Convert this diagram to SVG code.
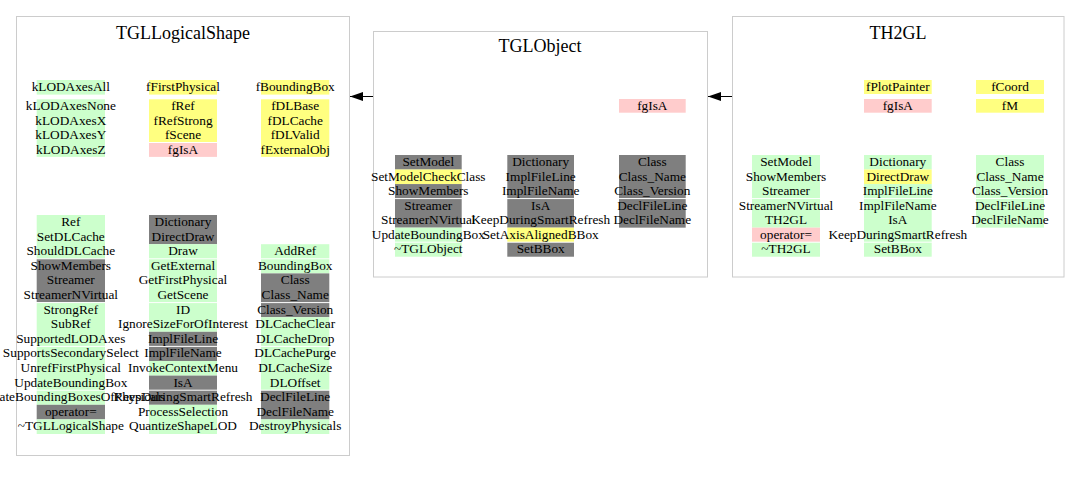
<svg xmlns="http://www.w3.org/2000/svg" width="1080" height="481" viewBox="0 0 1080 481">
<defs>
<style>
.box{fill:#ffffff;stroke:#cccccc;stroke-width:1}
.t{font-family:"Liberation Serif","DejaVu Serif",serif;font-size:13.3px;fill:#000;text-anchor:middle}
.title{font-family:"Liberation Serif","DejaVu Serif",serif;font-size:18px;fill:#000;text-anchor:middle}
.g{fill:#ccffcc}
.y{fill:#ffff80}
.p{fill:#ffcccc}
.d{fill:#7f7f7f}
.sep{stroke:#ffffff;stroke-width:1}
.conn{stroke:#000;stroke-width:1;fill:none}
</style>
<marker id="arr" markerUnits="userSpaceOnUse" markerWidth="14" markerHeight="10" refX="13" refY="4.5" orient="auto">
<path d="M0,0 L13,4.5 L0,9 z" fill="#000"/>
</marker>
</defs>
<rect x="0" y="0" width="1080" height="481" fill="#ffffff"/>

<g id="TGLLogicalShape">
<rect class="box" x="16.5" y="16.5" width="333" height="439"/>
<text class="title" x="183" y="39">TGLLogicalShape</text>
<!-- top attributes -->
<rect class="g" x="36.7" y="80" width="68.3" height="14.6"/>
<rect class="y" x="149" y="80" width="68" height="14.6"/>
<rect class="y" x="261" y="80" width="68.3" height="14.6"/>
<rect class="g" x="36.7" y="99.3" width="68.3" height="57.6"/>
<rect class="y" x="149" y="99.3" width="68" height="43.2"/>
<rect class="p" x="149" y="142.5" width="68" height="14.4"/>
<rect class="y" x="261" y="99.3" width="68.3" height="57.6"/>
<line class="sep" x1="149" y1="142.5" x2="217" y2="142.5"/>
<text class="t" x="70.8" y="91">kLODAxesAll</text>
<text class="t" x="183" y="91">fFirstPhysical</text>
<text class="t" x="295.2" y="91">fBoundingBox</text>
<text class="t" x="70.8" y="110.3">kLODAxesNone</text>
<text class="t" x="70.8" y="124.7">kLODAxesX</text>
<text class="t" x="70.8" y="139.1">kLODAxesY</text>
<text class="t" x="70.8" y="153.5">kLODAxesZ</text>
<text class="t" x="183" y="110.3">fRef</text>
<text class="t" x="183" y="124.7">fRefStrong</text>
<text class="t" x="183" y="139.1">fScene</text>
<text class="t" x="183" y="153.5">fgIsA</text>
<text class="t" x="295.2" y="110.3">fDLBase</text>
<text class="t" x="295.2" y="124.7">fDLCache</text>
<text class="t" x="295.2" y="139.1">fDLValid</text>
<text class="t" x="295.2" y="153.5">fExternalObj</text>
<!-- methods col1 -->
<rect class="g" x="36.7" y="215" width="68.3" height="43.8"/>
<rect class="d" x="36.7" y="258.8" width="68.3" height="43.8"/>
<rect class="g" x="36.7" y="302.6" width="68.3" height="102.2"/>
<rect class="d" x="36.7" y="404.8" width="68.3" height="14.6"/>
<rect class="g" x="36.7" y="419.4" width="68.3" height="14.6"/>
<!-- col2 -->
<rect class="d" x="149" y="215" width="68" height="29.2"/>
<rect class="g" x="149" y="244.2" width="68" height="87.6"/>
<rect class="d" x="149" y="331.8" width="68" height="29.2"/>
<rect class="g" x="149" y="361" width="68" height="14.6"/>
<rect class="d" x="149" y="375.6" width="68" height="29.2"/>
<rect class="g" x="149" y="404.8" width="68" height="29.2"/>
<!-- col3 -->
<rect class="g" x="261" y="244.2" width="68.3" height="29.2"/>
<rect class="d" x="261" y="273.4" width="68.3" height="43.8"/>
<rect class="g" x="261" y="317.2" width="68.3" height="73"/>
<rect class="d" x="261" y="390.2" width="68.3" height="29.2"/>
<rect class="g" x="261" y="419.4" width="68.3" height="14.6"/>
<line class="sep" x1="30" y1="258.8" x2="335" y2="258.8"/>
<line class="sep" x1="30" y1="302.6" x2="335" y2="302.6"/>
<line class="sep" x1="30" y1="346.4" x2="335" y2="346.4"/>
<line class="sep" x1="30" y1="390.2" x2="335" y2="390.2"/>
<text class="t" x="70.8" y="226">Ref</text>
<text class="t" x="70.8" y="240.6">SetDLCache</text>
<text class="t" x="70.8" y="255.2">ShouldDLCache</text>
<text class="t" x="70.8" y="269.8">ShowMembers</text>
<text class="t" x="70.8" y="284.4">Streamer</text>
<text class="t" x="70.8" y="299">StreamerNVirtual</text>
<text class="t" x="70.8" y="313.6">StrongRef</text>
<text class="t" x="70.8" y="328.2">SubRef</text>
<text class="t" x="70.8" y="342.8">SupportedLODAxes</text>
<text class="t" x="70.8" y="357.4">SupportsSecondarySelect</text>
<text class="t" x="70.8" y="372">UnrefFirstPhysical</text>
<text class="t" x="70.8" y="386.6">UpdateBoundingBox</text>
<text class="t" x="70.8" y="401.2">UpdateBoundingBoxesOfPhysicals</text>
<text class="t" x="70.8" y="415.8">operator=</text>
<text class="t" x="70.8" y="430.4">~TGLLogicalShape</text>
<text class="t" x="183" y="226">Dictionary</text>
<text class="t" x="183" y="240.6">DirectDraw</text>
<text class="t" x="183" y="255.2">Draw</text>
<text class="t" x="183" y="269.8">GetExternal</text>
<text class="t" x="183" y="284.4">GetFirstPhysical</text>
<text class="t" x="183" y="299">GetScene</text>
<text class="t" x="183" y="313.6">ID</text>
<text class="t" x="183" y="328.2">IgnoreSizeForOfInterest</text>
<text class="t" x="183" y="342.8">ImplFileLine</text>
<text class="t" x="183" y="357.4">ImplFileName</text>
<text class="t" x="183" y="372">InvokeContextMenu</text>
<text class="t" x="183" y="386.6">IsA</text>
<text class="t" x="183" y="401.2">KeepDuringSmartRefresh</text>
<text class="t" x="183" y="415.8">ProcessSelection</text>
<text class="t" x="183" y="430.4">QuantizeShapeLOD</text>
<text class="t" x="295.2" y="255.2">AddRef</text>
<text class="t" x="295.2" y="269.8">BoundingBox</text>
<text class="t" x="295.2" y="284.4">Class</text>
<text class="t" x="295.2" y="299">Class_Name</text>
<text class="t" x="295.2" y="313.6">Class_Version</text>
<text class="t" x="295.2" y="328.2">DLCacheClear</text>
<text class="t" x="295.2" y="342.8">DLCacheDrop</text>
<text class="t" x="295.2" y="357.4">DLCachePurge</text>
<text class="t" x="295.2" y="372">DLCacheSize</text>
<text class="t" x="295.2" y="386.6">DLOffset</text>
<text class="t" x="295.2" y="401.2">DeclFileLine</text>
<text class="t" x="295.2" y="415.8">DeclFileName</text>
<text class="t" x="295.2" y="430.4">DestroyPhysicals</text>
</g>

<g id="TGLObject">
<rect class="box" x="373.5" y="31.5" width="334" height="245.5"/>
<text class="title" x="540" y="52">TGLObject</text>
<rect class="p" x="619" y="99" width="66.7" height="13.7"/>
<text class="t" x="652.3" y="110">fgIsA</text>
<rect class="d" x="395" y="155" width="66.7" height="14.53"/>
<rect class="y" x="395" y="169.53" width="66.7" height="14.53"/>
<rect class="d" x="395" y="184.06" width="66.7" height="43.59"/>
<rect class="g" x="395" y="227.65" width="66.7" height="29.06"/>
<rect class="d" x="507.3" y="155" width="66.7" height="72.65"/>
<rect class="y" x="507.3" y="227.65" width="66.7" height="14.53"/>
<rect class="d" x="507.3" y="242.18" width="66.7" height="14.53"/>
<rect class="d" x="619" y="155" width="66.7" height="72.65"/>
<line class="sep" x1="390" y1="198.59" x2="690" y2="198.59"/>
<line class="sep" x1="390" y1="242.18" x2="690" y2="242.18"/>
<text class="t" x="428.3" y="166">SetModel</text>
<text class="t" x="428.3" y="180.5">SetModelCheckClass</text>
<text class="t" x="428.3" y="195.1">ShowMembers</text>
<text class="t" x="428.3" y="209.6">Streamer</text>
<text class="t" x="428.3" y="224.1">StreamerNVirtual</text>
<text class="t" x="428.3" y="238.7">UpdateBoundingBox</text>
<text class="t" x="428.3" y="253.2">~TGLObject</text>
<text class="t" x="540.7" y="166">Dictionary</text>
<text class="t" x="540.7" y="180.5">ImplFileLine</text>
<text class="t" x="540.7" y="195.1">ImplFileName</text>
<text class="t" x="540.7" y="209.6">IsA</text>
<text class="t" x="540.7" y="224.1">KeepDuringSmartRefresh</text>
<text class="t" x="540.7" y="238.7">SetAxisAlignedBBox</text>
<text class="t" x="540.7" y="253.2">SetBBox</text>
<text class="t" x="652.3" y="166">Class</text>
<text class="t" x="652.3" y="180.5">Class_Name</text>
<text class="t" x="652.3" y="195.1">Class_Version</text>
<text class="t" x="652.3" y="209.6">DeclFileLine</text>
<text class="t" x="652.3" y="224.1">DeclFileName</text>
</g>

<g id="TH2GL">
<rect class="box" x="732.5" y="16.5" width="331.5" height="260.5"/>
<text class="title" x="898" y="39">TH2GL</text>
<rect class="y" x="864" y="80" width="67.7" height="14"/>
<rect class="p" x="864" y="99" width="67.7" height="13.7"/>
<rect class="y" x="976" y="80" width="68" height="14"/>
<rect class="y" x="976" y="99" width="68" height="13.7"/>
<text class="t" x="897.8" y="91">fPlotPainter</text>
<text class="t" x="897.8" y="110">fgIsA</text>
<text class="t" x="1010" y="91">fCoord</text>
<text class="t" x="1010" y="110">fM</text>
<rect class="g" x="752" y="155" width="68" height="72.65"/>
<rect class="p" x="752" y="227.65" width="68" height="14.53"/>
<rect class="g" x="752" y="242.18" width="68" height="14.53"/>
<rect class="g" x="864" y="155" width="67.7" height="14.53"/>
<rect class="y" x="864" y="169.53" width="67.7" height="14.53"/>
<rect class="g" x="864" y="184.06" width="67.7" height="72.65"/>
<rect class="g" x="976" y="155" width="68" height="72.65"/>
<line class="sep" x1="745" y1="198.59" x2="1050" y2="198.59"/>
<line class="sep" x1="745" y1="242.18" x2="1050" y2="242.18"/>
<text class="t" x="786" y="166">SetModel</text>
<text class="t" x="786" y="180.5">ShowMembers</text>
<text class="t" x="786" y="195.1">Streamer</text>
<text class="t" x="786" y="209.6">StreamerNVirtual</text>
<text class="t" x="786" y="224.1">TH2GL</text>
<text class="t" x="786" y="238.7">operator=</text>
<text class="t" x="786" y="253.2">~TH2GL</text>
<text class="t" x="897.8" y="166">Dictionary</text>
<text class="t" x="897.8" y="180.5">DirectDraw</text>
<text class="t" x="897.8" y="195.1">ImplFileLine</text>
<text class="t" x="897.8" y="209.6">ImplFileName</text>
<text class="t" x="897.8" y="224.1">IsA</text>
<text class="t" x="897.8" y="238.7">KeepDuringSmartRefresh</text>
<text class="t" x="897.8" y="253.2">SetBBox</text>
<text class="t" x="1010" y="166">Class</text>
<text class="t" x="1010" y="180.5">Class_Name</text>
<text class="t" x="1010" y="195.1">Class_Version</text>
<text class="t" x="1010" y="209.6">DeclFileLine</text>
<text class="t" x="1010" y="224.1">DeclFileName</text>
</g>

<g id="connectors">
<path class="conn" d="M373,96.5 L350,96.5" marker-end="url(#arr)"/>
<path class="conn" d="M732,96.5 L708,96.5" marker-end="url(#arr)"/>
</g>
</svg>
